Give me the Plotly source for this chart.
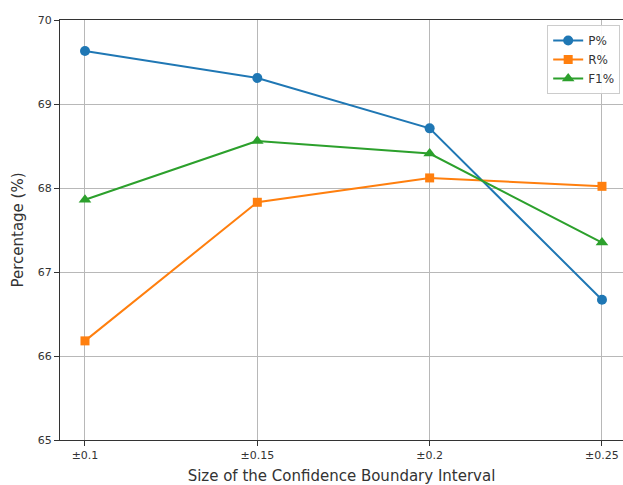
import plotly.graph_objects as go

categories = ["±0.1", "±0.15", "±0.2", "±0.25"]
p_vals = [69.63, 69.31, 68.71, 66.67]
r_vals = [66.18, 67.83, 68.12, 68.02]
f1_vals = [67.86, 68.56, 68.41, 67.35]

series = [
    ("P%", p_vals, "#1f77b4", "circle", 10),
    ("R%", r_vals, "#ff7f0e", "square", 9),
    ("F1%", f1_vals, "#2ca02c", "triangle-up", 11),
]

xs = list(range(len(categories)))
fig = go.Figure()
for name, vals, color, sym, size in series:
    fig.add_trace(go.Scatter(
        x=xs, y=vals, name=name, mode="lines+markers",
        line=dict(color=color, width=2),
        marker=dict(symbol=sym, size=size, color=color),
    ))

fig.update_layout(
    width=623, height=485,
    margin=dict(l=60, r=0, t=20, b=42),
    paper_bgcolor="white", plot_bgcolor="white",
    font=dict(family="DejaVu Sans", color="#333333"),
    showlegend=True,
    legend=dict(
        x=0.995, y=0.988, xanchor="right", yanchor="top",
        bgcolor="rgba(255,255,255,0.9)", bordercolor="#cccccc", borderwidth=1,
        font=dict(size=12, color="#333333"),
    ),
    xaxis=dict(
        range=[-0.145, 3.122],
        tickmode="array", tickvals=xs, ticktext=categories,
        tickfont=dict(size=11, color="#333333"),
        ticks="outside", ticklen=5, tickcolor="#333333",
        showgrid=True, gridcolor="#b8b8b8", gridwidth=1,
        showline=True, linecolor="#333333", linewidth=1.2, mirror=True,
        zeroline=False,
        title=dict(text="Size of the Confidence Boundary Interval", font=dict(size=15, color="#333333"), standoff=12),
    ),
    yaxis=dict(
        range=[65, 70], dtick=1,
        tickfont=dict(size=11, color="#333333"),
        ticks="outside", ticklen=5, tickcolor="#333333",
        showgrid=True, gridcolor="#b8b8b8", gridwidth=1,
        showline=True, linecolor="#333333", linewidth=1.2,
        zeroline=False,
        title=dict(text="Percentage (%)", font=dict(size=15, color="#333333"), standoff=10),
    ),
)

fig.write_html("out.html", config={"displayModeBar": False},
               post_script="document.body.style.margin='0';")
